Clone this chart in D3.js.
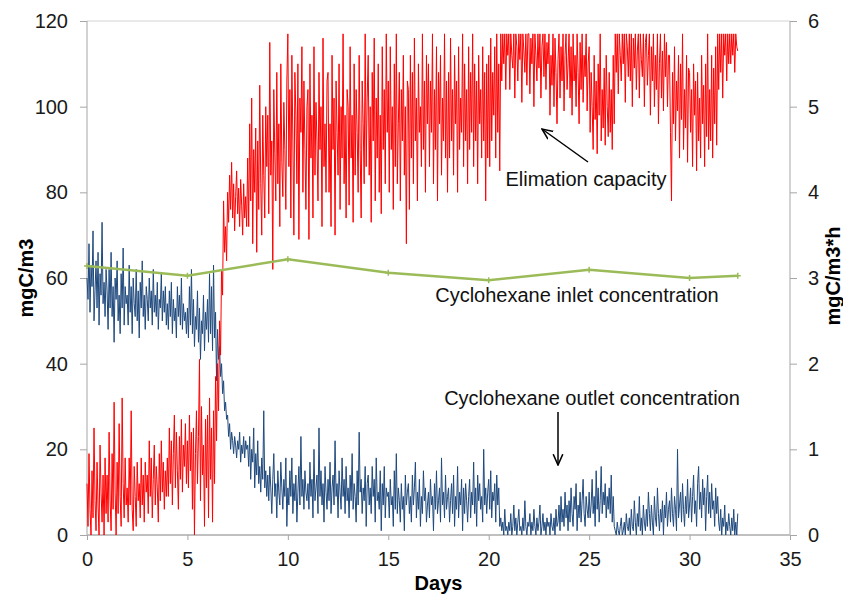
<!DOCTYPE html>
<html>
<head>
<meta charset="utf-8">
<script src="https://cdn.jsdelivr.net/npm/d3@7"></script>
<style>
  body { margin: 0; background: #fff; }
  svg { font-family: "Liberation Sans", Arial, sans-serif; }
</style>
</head>
<body>
<div id="chart-area"></div>
<script>
// logged series: one reading every 0.05 day starting at day 0 (20 per row = 1 day)
const sampleStart = 0;
const sampleStep = 0.05;

// outlet concentration, mgC/m3 (left axis)
const outletValues = [
  60, 55, 68, 52, 63, 58, 71, 50, 57, 64, 53, 66, 49, 61, 56, 73, 54, 59, 51, 62,
  57, 48, 62, 53, 66, 51, 58, 45, 60, 55, 64, 50, 56, 47, 61, 53, 67, 49, 58, 54,
  56, 49, 63, 52, 58, 47, 60, 54, 51, 62, 50, 57, 46, 59, 53, 64, 51, 56, 48, 58,
  55, 50, 60, 53, 57, 49, 62, 52, 56, 51, 59, 48, 55, 53, 61, 50, 57, 52, 58, 49,
  54, 48, 57, 51, 59, 47, 55, 50, 53, 46, 58, 51, 56, 49, 60, 48, 54, 50, 52, 47,
  53, 46, 58, 49, 62, 47, 55, 44, 51, 48, 57, 45, 53, 41, 50, 47, 56, 43, 52, 48,
  55, 45, 61, 47, 58, 43, 63, 46, 52, 36, 48, 41, 44, 37, 40, 33, 36, 29, 31, 27,
  28, 23, 26, 20, 24, 22, 19, 23, 21, 18, 22, 20, 24, 17, 21, 19, 23, 18, 22, 20,
  21, 16, 23, 13, 20, 17, 25, 11, 19, 14, 22, 12, 16, 10, 18, 13, 29, 11, 15, 9,
  14, 8, 16, 11, 5, 13, 19, 9, 12, 4, 15, 10, 7, 17, 11, 6, 13, 9, 18, 2,
  11, 7, 15, 9, 18, 5, 12, 8, 14, 3, 10, 16, 7, 23, 9, 13, 6, 15, 10, 8,
  12, 6, 17, 9, 13, 4, 20, 8, 11, 14, 5, 25, 9, 15, 7, 12, 3, 16, 10, 6,
  13, 8, 17, 5, 11, 14, 7, 22, 9, 12, 4, 15, 10, 6, 18, 9, 13, 5, 16, 8,
  11, 4, 14, 8, 19, 6, 12, 9, 3, 15, 7, 24, 10, 13, 5, 11, 8, 16, 2, 12,
  14, 7, 11, 5, 16, 9, 13, 3, 18, 8, 10, 6, 15, 1, 12, 7, 16, 4, 11, 9,
  10, 4, 13, 7, 9, 2, 15, 6, 19, 5, 11, 8, 3, 12, 6, 9, 1, 14, 7, 10,
  12, 5, 9, 3, 14, 7, 11, 17, 4, 10, 6, 13, 2, 9, 5, 15, 8, 11, 3, 7,
  10, 4, 13, 7, 9, 1, 12, 6, 15, 5, 8, 11, 3, 18, 7, 10, 4, 14, 6, 9,
  11, 3, 8, 12, 5, 14, 2, 9, 6, 16, 4, 10, 7, 13, 1, 11, 5, 12, 8, 3,
  9, 13, 4, 10, 7, 17, 5, 11, 2, 14, 8, 12, 6, 9, 3, 20, 7, 11, 5, 10,
  13, 6, 15, 4, 10, 8, 12, 3, 14, 7, 11, 2, 4, 1, 3, 0, 6, 1, 2, 0,
  3, 1, 5, 0, 2, 7, 1, 4, 0, 3, 6, 1, 2, 0, 4, 1, 8, 2, 0, 3,
  2, 5, 0, 3, 1, 6, 2, 0, 4, 1, 3, 7, 0, 2, 5, 1, 3, 0, 4, 2,
  3, 0, 5, 2, 1, 4, 0, 6, 2, 3, 7, 1, 9, 3, 6, 2, 10, 4, 7, 1,
  8, 3, 11, 5, 2, 9, 6, 12, 1, 7, 4, 10, 3, 8, 13, 5, 2, 9, 6, 4,
  10, 4, 7, 13, 5, 9, 2, 15, 6, 11, 3, 8, 16, 5, 10, 7, 12, 4, 9, 6,
  11, 5, 14, 3, 9, 2, 1, 0, 3, 1, 0, 2, 4, 0, 1, 3, 0, 5, 2, 1,
  4, 0, 6, 2, 1, 8, 3, 0, 5, 2, 9, 1, 4, 0, 7, 3, 1, 6, 2, 10,
  5, 1, 7, 3, 0, 9, 4, 2, 11, 5, 1, 6, 3, 8, 0, 7, 4, 10, 2, 6,
  8, 3, 11, 5, 2, 9, 6, 1, 20, 4, 7, 10, 3, 12, 6, 2, 9, 5, 13, 4,
  7, 11, 3, 9, 14, 5, 8, 2, 12, 16, 6, 10, 4, 13, 7, 11, 1, 9, 14, 5,
  10, 4, 12, 6, 8, 2, 11, 5, 9, 3, 1, 6, 0, 4, 2, 7, 0, 3, 1, 5,
  2, 0, 4, 1, 6, 0, 3, 0, 5
];

// elimination capacity, mgC/m3*h (right axis)
const capacityValues = [
  0.60, 0.10, 0.95, 0.30, 0.00, 0.75, 0.20, 1.25, 0.40, 0.05, 0.85, 0.35, 0.00, 1.05, 0.50, 0.15, 0.70, 0.00, 0.90, 0.25,
  0.70, 0.15, 1.20, 0.40, 0.05, 0.95, 0.30, 1.55, 0.50, 0.00, 0.85, 0.25, 1.30, 0.45, 0.10, 1.60, 0.60, 0.20, 0.90, 0.35,
  0.55, 0.15, 0.90, 0.35, 1.45, 0.30, 0.05, 0.80, 0.45, 0.10, 0.85, 0.40, 0.60, 0.20, 0.90, 0.35, 0.70, 0.15, 0.85, 0.50,
  0.70, 0.25, 1.10, 0.45, 0.90, 0.20, 0.65, 1.05, 0.35, 0.80, 0.55, 0.15, 0.95, 0.40, 1.10, 0.50, 0.85, 0.30, 0.75, 0.45,
  0.90, 0.45, 1.25, 0.60, 1.10, 0.35, 0.95, 1.40, 0.55, 1.20, 0.75, 0.30, 1.15, 0.65, 1.35, 0.50, 1.05, 0.80, 1.30, 0.60,
  1.10, 0.55, 1.40, 0.75, 1.20, 0.30, 1.25, 0.00, 0.95, 1.45, 0.60, 1.15, 2.05, 0.40, 1.50, 0.70, 1.05, 0.10, 1.35, 0.55,
  1.40, 0.20, 1.60, 0.65, 1.25, 0.15, 1.45, 0.60, 1.85, 1.10, 2.00, 1.45, 2.50, 2.10, 3.10, 2.80, 3.90, 3.30, 3.60, 3.20,
  4.00, 3.65, 4.20, 3.80, 4.35, 3.70, 4.10, 3.55, 3.95, 4.25, 3.75, 4.05, 3.60, 4.15, 3.85, 3.50, 4.10, 3.70, 3.95, 3.60,
  4.40, 3.60, 4.80, 3.90, 5.10, 3.40, 4.50, 4.00, 4.75, 3.30, 4.60, 3.80, 5.25, 4.10, 3.50, 4.90, 4.20, 3.70, 5.00, 4.30,
  4.90, 3.75, 5.75, 4.20, 4.60, 3.10, 5.20, 4.45, 3.90, 5.40, 4.10, 4.80, 3.60, 5.50, 4.35, 3.95, 5.05, 4.50, 3.80, 5.30,
  5.85, 4.30, 5.20, 3.70, 5.60, 4.60, 3.50, 5.40, 4.90, 4.10, 5.50, 3.45, 5.10, 4.70, 5.70, 4.00, 5.30, 4.50, 3.80, 5.00,
  5.20, 3.45, 5.50, 4.40, 4.90, 3.70, 5.70, 4.20, 5.05, 4.60, 3.90, 5.40, 4.50, 5.00, 3.60, 5.80, 4.30, 4.80, 4.00, 5.30,
  5.40, 4.00, 4.80, 3.60, 5.60, 4.50, 5.10, 3.50, 5.30, 4.70, 4.20, 5.50, 3.80, 5.00, 4.40, 5.85, 4.10, 4.90, 3.70, 5.20,
  5.00, 3.85, 5.70, 4.40, 4.90, 3.65, 5.50, 4.20, 5.20, 4.70, 4.00, 5.60, 4.50, 3.70, 5.30, 4.80, 4.10, 5.85, 4.30, 5.10,
  5.60, 4.20, 5.00, 3.65, 5.40, 4.60, 5.80, 3.90, 5.10, 4.40, 5.50, 4.00, 4.90, 3.75, 5.70, 4.50, 5.20, 4.10, 5.85, 4.70,
  5.30, 4.00, 5.70, 4.50, 5.00, 3.80, 5.50, 4.30, 5.85, 4.10, 4.80, 5.40, 3.90, 5.20, 4.60, 5.60, 4.20, 5.00, 3.40, 5.30,
  5.20, 3.80, 5.60, 4.40, 5.40, 4.10, 5.80, 4.60, 5.10, 3.90, 5.50, 4.70, 5.00, 4.30, 5.85, 4.50, 5.30, 4.00, 5.60, 4.80,
  5.50, 4.30, 5.30, 4.70, 5.85, 4.10, 5.20, 4.50, 5.70, 3.90, 5.40, 4.80, 5.60, 4.20, 5.10, 4.60, 5.85, 4.40, 5.30, 4.00,
  5.40, 4.40, 5.80, 4.60, 5.20, 4.20, 5.60, 4.80, 5.30, 4.00, 5.70, 4.50, 5.10, 4.70, 5.85, 4.30, 5.50, 4.60, 5.20, 4.10,
  5.70, 4.50, 5.40, 4.70, 5.85, 4.30, 5.50, 4.60, 5.30, 4.10, 5.60, 4.80, 5.20, 4.40, 5.70, 4.60, 5.40, 3.90, 5.50, 4.40,
  5.60, 4.30, 5.80, 4.60, 5.40, 4.90, 5.70, 4.40, 5.85, 4.70, 5.50, 4.25, 5.85, 5.30, 5.85, 5.50, 5.85, 5.20, 5.85, 5.60,
  5.85, 5.20, 5.85, 5.60, 5.45, 5.85, 5.10, 5.85, 5.70, 5.30, 5.85, 5.55, 5.85, 5.05, 5.85, 5.65, 5.40, 5.85, 5.25, 5.85,
  5.85, 5.15, 5.80, 5.50, 5.85, 5.00, 5.85, 5.60, 5.30, 5.85, 5.45, 5.85, 5.10, 5.70, 5.85, 5.35, 5.85, 5.20, 5.75, 5.50,
  5.85, 4.90, 5.60, 5.25, 5.85, 5.00, 5.80, 5.40, 4.80, 5.55, 5.85, 5.10, 5.70, 5.30, 5.85, 4.95, 5.60, 5.85, 5.20, 5.50,
  5.85, 5.10, 5.70, 4.90, 5.85, 5.30, 5.60, 5.00, 5.85, 5.40, 4.80, 5.75, 5.20, 5.85, 5.05, 5.60, 5.35, 5.85, 4.95, 5.50,
  5.70, 4.70, 5.40, 5.00, 4.50, 5.60, 4.85, 5.30, 4.45, 5.50, 4.90, 5.85, 4.60, 5.20, 4.75, 5.45, 4.55, 5.60, 5.00, 4.65,
  5.40, 4.70, 5.20, 4.50, 5.60, 4.80, 5.85, 5.40, 5.85, 5.15, 5.85, 5.60, 5.30, 5.85, 5.50, 5.85, 5.05, 5.85, 5.70, 5.35,
  5.85, 5.30, 5.85, 5.00, 5.80, 5.45, 5.85, 5.20, 5.65, 5.85, 5.10, 5.85, 5.55, 5.35, 5.85, 5.00, 5.75, 5.85, 5.25, 5.60,
  5.85, 4.90, 5.70, 5.30, 5.85, 5.00, 5.60, 5.20, 5.85, 4.80, 5.50, 5.85, 5.10, 5.65, 4.95, 5.85, 5.35, 5.75, 5.00, 5.60,
  5.60, 4.70, 3.90, 5.40, 4.80, 5.70, 4.60, 5.30, 4.95, 5.60, 4.40, 5.50, 4.85, 5.85, 4.50, 5.20, 4.75, 5.60, 4.35, 5.45,
  5.40, 4.70, 5.20, 4.30, 5.50, 4.90, 5.30, 4.25, 5.40, 4.60, 5.10, 4.40, 5.60, 4.80, 5.25, 4.30, 5.50, 4.65, 5.85, 4.50,
  5.20, 4.60, 5.60, 4.40, 5.45, 4.80, 5.70, 4.55, 5.85, 5.20, 5.85, 5.40, 5.85, 5.10, 5.85, 5.60, 5.85, 5.30, 5.85, 5.50,
  5.85, 5.50, 5.85, 5.60, 5.85, 5.40, 5.85, 5.70, 5.65
];

// inlet concentration, mgC/m3 (left axis), one sample every 5 days
const inletDays = [0, 5, 10, 15, 20, 25, 30, 32.4];
const inletValues = [62.8, 60.5, 64.4, 61.2, 59.5, 61.9, 60.0, 60.5];

const dayTicks = [0, 5, 10, 15, 20, 25, 30, 35];
const leftTicks = [0, 20, 40, 60, 80, 100, 120];
const rightTicks = [0, 1, 2, 3, 4, 5, 6];

const width = 843, height = 596;
const margin = {top: 21, right: 53, bottom: 61, left: 87};

const svg = d3.select("#chart-area").append("svg")
    .attr("width", width)
    .attr("height", height);

const x = d3.scaleLinear().domain([0, 35]).range([margin.left, width - margin.right]);
const yLeft = d3.scaleLinear().domain([0, 120]).range([height - margin.bottom, margin.top]);
const yRight = d3.scaleLinear().domain([0, 6]).range([height - margin.bottom, margin.top]);

const dayAt = (i) => sampleStart + i * sampleStep;

// frame: top border, left/right axis lines
svg.append("line")
    .attr("x1", x(0)).attr("x2", x(35))
    .attr("y1", yLeft(120)).attr("y2", yLeft(120))
    .attr("stroke", "#d4d4d4").attr("stroke-width", 1);

const leftAxis = svg.append("g")
    .attr("transform", `translate(${x(0)},0)`)
    .call(d3.axisLeft(yLeft).tickValues(leftTicks).tickSize(7).tickPadding(12).tickFormat(d3.format("d")));

const rightAxis = svg.append("g")
    .attr("transform", `translate(${x(35)},0)`)
    .call(d3.axisRight(yRight).tickValues(rightTicks).tickSize(7).tickPadding(11).tickFormat(d3.format("d")));

const bottomAxis = svg.append("g")
    .attr("transform", `translate(0,${yLeft(0)})`)
    .call(d3.axisBottom(x).tickValues(dayTicks).tickSize(5).tickPadding(12).tickFormat(d3.format("d")));

[leftAxis, rightAxis, bottomAxis].forEach(g => {
    g.selectAll("path, line").attr("stroke", "#a6a6a6");
    g.selectAll("text").attr("font-size", 20).attr("fill", "#1a1a1a")
        .attr("font-family", "Liberation Sans, Arial, sans-serif");
});
leftAxis.select(".domain").attr("d", `M0,${yLeft(0)}V${yLeft(120)}`);
rightAxis.select(".domain").attr("d", `M0,${yRight(0)}V${yRight(6)}`);
bottomAxis.select(".domain").attr("stroke", "#c0c0c0").attr("stroke-width", 2)
    .attr("d", `M${x(0)},0H${x(35)}`);

// outlet concentration (blue, noisy)
const outletLine = d3.line()
    .x((d, i) => x(dayAt(i)))
    .y(d => yLeft(d));

svg.append("path")
    .datum(outletValues)
    .attr("d", outletLine)
    .attr("fill", "none")
    .attr("stroke", "#1f497d")
    .attr("stroke-width", 1);

// elimination capacity (red, right axis)
const capacityLine = d3.line()
    .x((d, i) => x(dayAt(i)))
    .y(d => yRight(d));

svg.append("path")
    .datum(capacityValues)
    .attr("d", capacityLine)
    .attr("fill", "none")
    .attr("stroke", "#ff0000")
    .attr("stroke-width", 1);

// inlet concentration (green, markers)
const inlet = inletDays.map((d, i) => ({day: d, value: inletValues[i]}));

svg.append("path")
    .datum(inlet)
    .attr("d", d3.line().x(d => x(d.day)).y(d => yLeft(d.value)))
    .attr("fill", "none")
    .attr("stroke", "#9bbb59")
    .attr("stroke-width", 2.5);

svg.selectAll(".marker")
    .data(inlet)
    .enter()
    .append("path")
    .attr("class", "marker")
    .attr("transform", d => `translate(${x(d.day)},${yLeft(d.value)})`)
    .attr("d", "M-3,0H3M0,-3V3")
    .attr("stroke", "#9bbb59")
    .attr("stroke-width", 1.5);

// axis titles
svg.append("text")
    .attr("transform", `translate(33,${(yLeft(0) + yLeft(120)) / 2}) rotate(-90)`)
    .attr("text-anchor", "middle")
    .attr("font-size", 20)
    .attr("font-weight", "bold")
    .text("mgC/m3");

svg.append("text")
    .attr("transform", `translate(840,276) rotate(-90)`)
    .attr("text-anchor", "middle")
    .attr("font-size", 20)
    .attr("font-weight", "bold")
    .text("mgC/m3*h");

svg.append("text")
    .attr("x", (x(0) + x(35)) / 2)
    .attr("y", 590)
    .attr("text-anchor", "middle")
    .attr("font-size", 20)
    .attr("font-weight", "bold")
    .text("Days");

// annotations
svg.append("defs").append("marker")
    .attr("id", "arrowhead")
    .attr("viewBox", "0 0 10 10")
    .attr("refX", 9).attr("refY", 5)
    .attr("markerWidth", 8).attr("markerHeight", 8)
    .attr("orient", "auto")
    .append("path")
    .attr("d", "M0,1L9,5L0,9")
    .attr("fill", "none")
    .attr("stroke", "#000")
    .attr("stroke-width", 1.3);

const notes = [
    {text: "Elimation capacity", x: 586, y: 186},
    {text: "Cyclohexane inlet concentration", x: 577, y: 302},
    {text: "Cyclohexane outlet concentration", x: 592, y: 405}
];

svg.selectAll(".note")
    .data(notes)
    .enter()
    .append("text")
    .attr("class", "note")
    .attr("x", d => d.x)
    .attr("y", d => d.y)
    .attr("text-anchor", "middle")
    .attr("font-size", 20)
    .attr("fill", "#111")
    .text(d => d.text);

svg.append("line")
    .attr("x1", 588).attr("y1", 162)
    .attr("x2", 542).attr("y2", 129)
    .attr("stroke", "#000").attr("stroke-width", 1.5)
    .attr("marker-end", "url(#arrowhead)");

svg.append("line")
    .attr("x1", 558).attr("y1", 412)
    .attr("x2", 558).attr("y2", 465)
    .attr("stroke", "#000").attr("stroke-width", 1.5)
    .attr("marker-end", "url(#arrowhead)");
</script>
</body>
</html>
